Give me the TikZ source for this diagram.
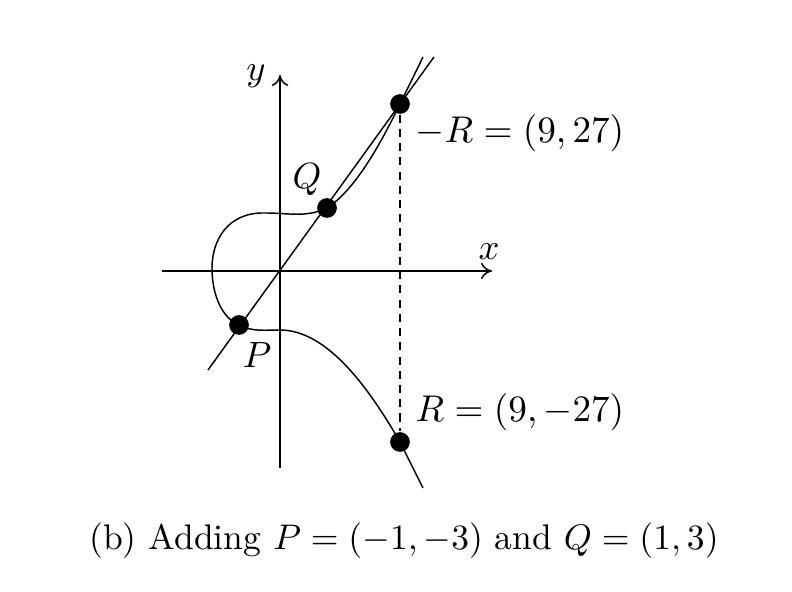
\documentclass[tikz,border=0pt]{standalone}
\usetikzlibrary{arrows.meta}
\begin{document}
\begin{tikzpicture}[x=0.274pt,y=-0.274pt,
  pt/.style={circle,fill=black,inner sep=0pt,minimum size=5.4pt},
  lbl/.style={inner sep=0pt,anchor=west,scale=1.02},
  ax/.style={line width=0.4pt,-{To[length=3pt,width=4.5pt]}},
  thinline/.style={line width=0.4pt},
  dsh/.style={line width=0.4pt,dash pattern=on 2.2pt off 1.7pt}]
\useasboundingbox (0,0) rectangle (792,592);
% axes
\coordinate (xa) at (162,271);
\coordinate (xb) at (492,271);
\coordinate (ya) at (280,468);
\coordinate (yb) at (280,75);
\draw[ax] (xa) -- (xb);
\draw[ax] (ya) -- (yb);
\node (xl) at (489,252) {$x$};
\node (yl) at (256,76) {$y$};
% line through P and Q
\coordinate (la) at (208,370);
\coordinate (lb) at (434,57);
\draw[thinline] (la) -- (lb);
% curve
\coordinate (ctop) at (423,57);
\coordinate (cbot) at (423,488);
\draw[thinline] (ctop) -- (400,104)
  .. controls (380,145) and (355,190) .. (327,208)
  .. controls (305,218) and (290,213) .. (265,213)
  .. controls (228,212) and (212,240) .. (212,268)
  .. controls (212,295) and (222,318) .. (239,325)
  .. controls (252,332) and (265,330) .. (280,330)
  .. controls (328,330) and (370,390) .. (400,442)
  -- (cbot);
% points
\node[pt] (P) at (239,325) {};
\node[pt] (Q) at (327,208) {};
\node[pt] (mR) at (400,104) {};
\node[pt] (R) at (400,442) {};
\draw[dsh] (mR) -- (R);
% labels
\node (Pl) at (257,355) {$P$};
\node (Ql) at (307,180) {$Q$};
\node[lbl] (mRl) at (415,133) {$-R=(9,27)$};
\node[lbl] (Rl) at (415,412) {$R=(9,-27)$};
\node[scale=0.975] (cap) at (404,541) {(b) Adding $P=(-1,-3)$ and $Q=(1,3)$};
\end{tikzpicture}
\end{document}
